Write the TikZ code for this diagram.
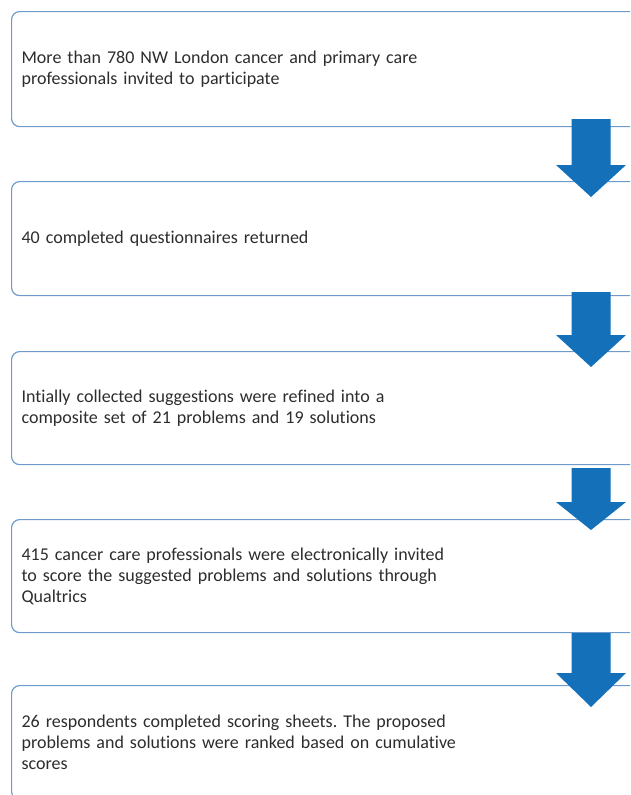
\documentclass[tikz,border=0pt]{standalone}
\usepackage{fontspec}
\setmainfont{Carlito}[Ligatures={NoCommon}]
\usetikzlibrary{calc}
\definecolor{boxline}{RGB}{111,155,203}
\definecolor{arrowblue}{RGB}{21,112,186}
\definecolor{txtgray}{RGB}{45,45,45}
\newcommand\blockarr[5]{%
  \fill[blockarrow] ($(ax |- #1.south)+(-19.5,#3)$) -- ($(ax |- #1.south)+(19.5,#3)$)
    -- ($(ax |- #2.north)+(19.5,#4-#5)$) -- ($(ax |- #2.north)+(35,#4-#5)$)
    -- ($(ax |- #2.north)+(0,#4)$) -- ($(ax |- #2.north)+(-35,#4-#5)$)
    -- ($(ax |- #2.north)+(-19.5,#4-#5)$) -- cycle;}
\begin{document}
\frenchspacing
\begin{tikzpicture}[x=1pt,y=-1pt,
  stepbox/.style={draw=boxline, line width=1.2pt, rounded corners=8pt, fill=white,
    anchor=north west, minimum width=640pt, text width=620pt, align=left,
    inner xsep=10pt, inner ysep=0pt, text=txtgray,
    font=\fontsize{18}{21}\selectfont},
  blockarrow/.style={fill=arrowblue, draw=none}]
\useasboundingbox (0,0) rectangle (630,795);
\clip (0,0) rectangle (630,795);
\fill[white] (0,0) rectangle (630,795);
\coordinate (ax) at (591,0);
\node[stepbox, minimum height=115pt] (b1) at (11,11)
  {More than 780 NW London cancer and primary care\\professionals invited to participate};
\node[stepbox, minimum height=114pt] (b2) at (11,181)
  {40 completed questionnaires returned};
\node[stepbox, minimum height=113pt] (b3) at (11,351)
  {Intially collected suggestions were refined into a\\composite set of 21 problems and 19 solutions};
\node[stepbox, minimum height=113pt] (b4) at (11,519)
  {415 cancer care professionals were electronically invited\\to score the suggested problems and solutions through\\Qualtrics};
\node[stepbox, minimum height=114pt] (b5) at (11,685)
  {26 respondents completed scoring sheets. The proposed\\problems and solutions were ranked based on cumulative\\scores};
\blockarr{b1}{b2}{-8}{16}{32}
\blockarr{b2}{b3}{-4}{16}{32}
\blockarr{b3}{b4}{3}{11}{28}
\blockarr{b4}{b5}{0}{22}{34}
\end{tikzpicture}
\end{document}
